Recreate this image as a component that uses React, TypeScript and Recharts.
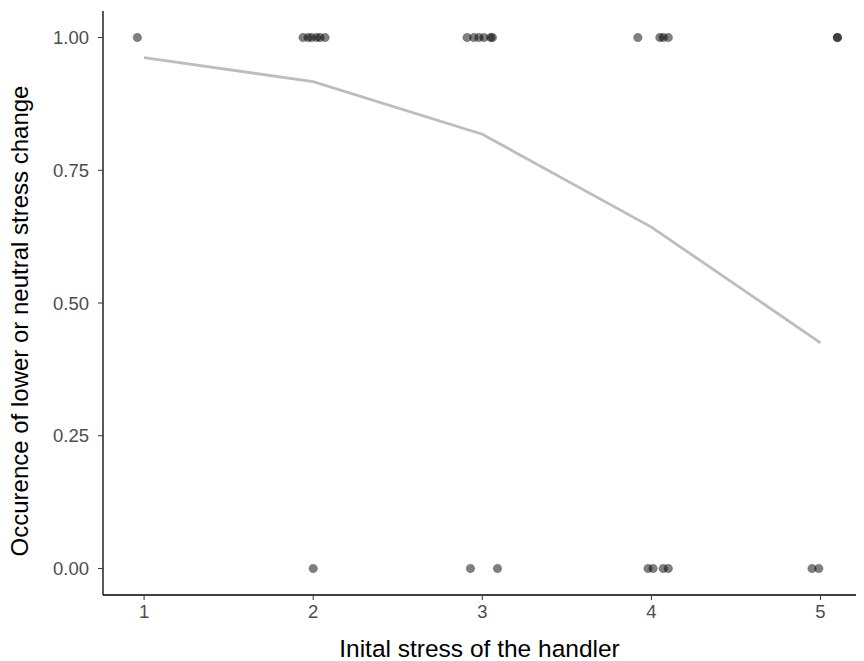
import { ComposedChart, Scatter, Line, XAxis, YAxis, Label } from "recharts";

// jittered observations (x = initial stress)
const topX = [0.96, 1.94, 1.97, 1.99, 2.02, 2.04, 2.07, 2.91, 2.95, 2.98, 3.01, 3.05, 3.06, 3.92, 4.05, 4.07, 4.1, 5.1, 5.1];
const bottomX = [2.0, 2.93, 3.09, 3.98, 4.01, 4.07, 4.1, 4.95, 4.99];

// fitted probability
const fitX = [1, 2, 3, 4, 5];
const fitY = [0.962, 0.917, 0.818, 0.643, 0.425];

const xTicks = [1, 2, 3, 4, 5];
const yTicks = [0, 0.25, 0.5, 0.75, 1];

const points = [
  ...topX.map((x) => ({ x, y: 1 })),
  ...bottomX.map((x) => ({ x, y: 0 })),
];
const fit = fitX.map((x, i) => ({ x, y: fitY[i] }));

const font = "Liberation Sans, Arial, sans-serif";
const tickStyle = { fill: "#4d4d4d", fontSize: 18.5, fontFamily: font };

const YTitle = (props: any) => {
  const vb = props.viewBox || {};
  const cx = 28;
  const cy = (vb.y ?? 11) + (vb.height ?? 585) / 2 + 18;
  return (
    <text
      x={cx}
      y={cy}
      transform={`rotate(-90, ${cx}, ${cy})`}
      textAnchor="middle"
      fontSize={24}
      fontFamily={font}
      fill="#000"
    >
      Occurence of lower or neutral stress change
    </text>
  );
};

export default function App() {
  return (
    <div style={{ position: "absolute", left: 0, top: 0, background: "#fff" }}>
      <ComposedChart width={864} height={661} margin={{ top: 11, right: 8, bottom: 0, left: 0 }}>
        <XAxis
          dataKey="x"
          type="number"
          domain={[0.757, 5.21]}
          ticks={xTicks}
          allowDataOverflow
          height={66}
          tick={tickStyle}
          tickSize={5}
          tickMargin={5}
          tickLine={{ stroke: "#333" }}
          axisLine={{ stroke: "#000", strokeWidth: 1.3 }}
        >
          <Label
            value="Inital stress of the handler"
            position="insideBottom"
            offset={4}
            fontSize={24.5}
            fill="#000"
            fontFamily={font}
          />
        </XAxis>
        <YAxis
          dataKey="y"
          type="number"
          domain={[-0.05, 1.05]}
          ticks={yTicks}
          allowDataOverflow
          width={103}
          tickFormatter={(v: number) => v.toFixed(2)}
          tick={tickStyle}
          tickSize={5}
          tickMargin={9}
          tickLine={{ stroke: "#333" }}
          axisLine={{ stroke: "#000", strokeWidth: 1.3 }}
        >
          <Label content={YTitle} />
        </YAxis>
        <Line
          data={fit}
          dataKey="y"
          stroke="#bdbdbd"
          strokeWidth={2.8}
          dot={false}
          activeDot={false}
          isAnimationActive={false}
        />
        <Scatter
          data={points}
          dataKey="y"
          isAnimationActive={false}
          shape={(p: any) => (
            <circle cx={p.cx} cy={p.cy} r={4.3} fill="#000" fillOpacity={0.5} stroke="#000" strokeOpacity={0.3} strokeWidth={0.6} />
          )}
        />
      </ComposedChart>
    </div>
  );
}
